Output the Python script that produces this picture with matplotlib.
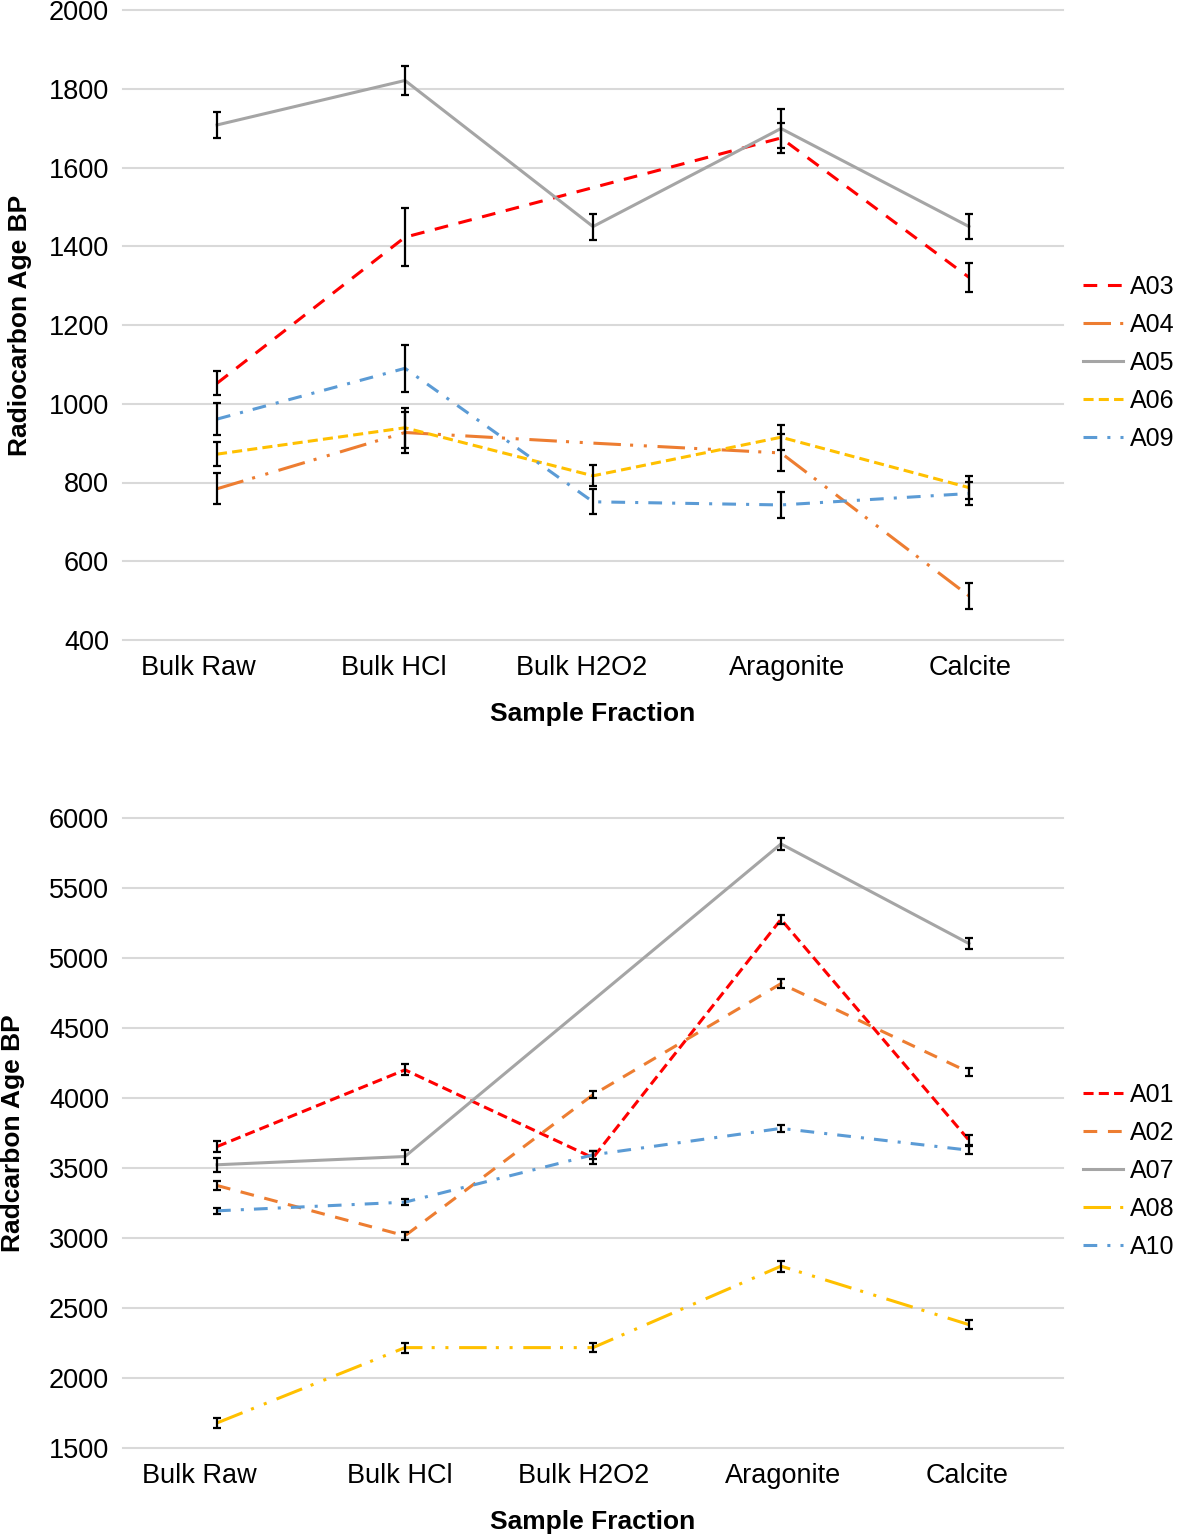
import numpy as np
import matplotlib
matplotlib.use("Agg")
import matplotlib.pyplot as plt

plt.rcParams['font.family'] = ['Liberation Sans', 'DejaVu Sans']

fractions = ["Bulk Raw", "Bulk HCl", "Bulk H2O2", "Aragonite", "Calcite"]
nan = np.nan

# top panel
top_names = ["A03", "A04", "A05", "A06", "A09"]
a03 = [1052, 1423, nan, 1675, 1321]
a03_err = [31, 73, nan, 37, 36]
a04 = [784, 927, 900, 875, 512]
a04_err = [39, 52, nan, 47, 33]
a05 = [1708, 1821, 1450, 1699, 1450]
a05_err = [32, 38, 33, 49, 31]
a06 = [872, 939, 817, 915, 787]
a06_err = [30, 51, 27, 32, 30]
a09 = [961, 1090, 751, 743, 772]
a09_err = [40, 60, 32, 34, 30]

# bottom panel
bot_names = ["A01", "A02", "A07", "A08", "A10"]
a01 = [3653, 4201, 3573, 5276, 3698]
a01_err = [40, 40, 45, 32, 35]
a02 = [3375, 3016, 4023, 4817, 4184]
a02_err = [30, 30, 25, 30, 30]
a07 = [3523, 3582, nan, 5815, 5103]
a07_err = [50, 50, nan, 45, 38]
a08 = [1679, 2217, 2217, 2799, 2381]
a08_err = [35, 35, 30, 40, 30]
a10 = [3194, 3256, 3594, 3783, 3627]
a10_err = [22, 22, 30, 25, 30]

red, orange, gray, yellow, blue = "#FF0000", "#ED7D31", "#A5A5A5", "#FFC000", "#5B9BD5"
long_dash = (0, (4.5, 3.5))
short_dash = (0, (3.3, 1.7))
dash_dot = (0, (4.5, 3.3, 1, 3.3))
dash_dot_dot = (0, (9, 3, 1, 3.5, 1, 3.5))

top_series = [(a03, a03_err, red, long_dash), (a04, a04_err, orange, dash_dot_dot),
              (a05, a05_err, gray, "-"), (a06, a06_err, yellow, short_dash),
              (a09, a09_err, blue, dash_dot)]
bot_series = [(a01, a01_err, red, short_dash), (a02, a02_err, orange, long_dash),
              (a07, a07_err, gray, "-"), (a08, a08_err, yellow, dash_dot_dot),
              (a10, a10_err, blue, dash_dot)]

fig = plt.figure(figsize=(11.8, 15.37), dpi=100)
ax_top = fig.add_axes([123 / 1180, 1 - 640 / 1537, 940 / 1180, 630 / 1537])
ax_bot = fig.add_axes([123 / 1180, 1 - 1448 / 1537, 940 / 1180, 630 / 1537])


def draw(ax, names, series, ylim, step, ylabel, label_shift, ylab_x):
    x = np.arange(len(fractions))
    for name, (vals, errs, col, ls) in zip(names, series):
        vals = np.array(vals, dtype=float)
        errs = np.array(errs, dtype=float)
        ok = ~np.isnan(vals)
        ax.plot(x[ok], vals[ok], color=col, ls=ls, lw=2.2, label=name, zorder=3)
        has = ~np.isnan(errs)
        ax.errorbar(x[has], vals[has], yerr=errs[has], fmt="none", ecolor="black",
                    elinewidth=1.6, capsize=3, capthick=1.6, zorder=4)
    ax.set_xlim(-0.5, len(fractions) - 0.5)
    ax.set_ylim(*ylim)
    ax.set_yticks(np.arange(ylim[0], ylim[1] + 1, step))
    # category labels sit a little off the points in the original
    ax.set_xticks(x + np.array(label_shift) / 188.0)
    ax.set_xticklabels(fractions)
    ax.tick_params(axis="both", length=0, labelsize=19.5)
    ax.tick_params(axis="y", pad=10)
    ax.tick_params(axis="x", pad=11)
    ax.grid(axis="y", color="#D9D9D9", lw=1.5)
    ax.grid(axis="x", visible=False)
    for gl in ax.get_ygridlines():
        gl.set_clip_on(False)
    ax.set_axisbelow(True)
    for s in ax.spines.values():
        s.set_visible(False)
    ax.set_xlabel("Sample Fraction", fontsize=19, fontweight="bold", labelpad=15)
    ax.set_ylabel(ylabel, fontsize=19, fontweight="bold")
    ax.yaxis.set_label_coords(ylab_x, 0.5)
    ax.legend(loc="center left", bbox_to_anchor=(1.021, 0.44), frameon=False,
              fontsize=18, handlelength=1.6, handletextpad=0.28, labelspacing=0.56,
              borderpad=0, borderaxespad=0)


draw(ax_top, top_names, top_series, (400, 2000), 200, "Radiocarbon Age BP",
     [-19, -11, -11, 6, 1], -0.097)
draw(ax_bot, bot_names, bot_series, (1500, 6000), 500, "Radcarbon Age BP",
     [-18, -5, -9, 2, -2], -0.104)

fig.savefig("out.png", dpi=100)
